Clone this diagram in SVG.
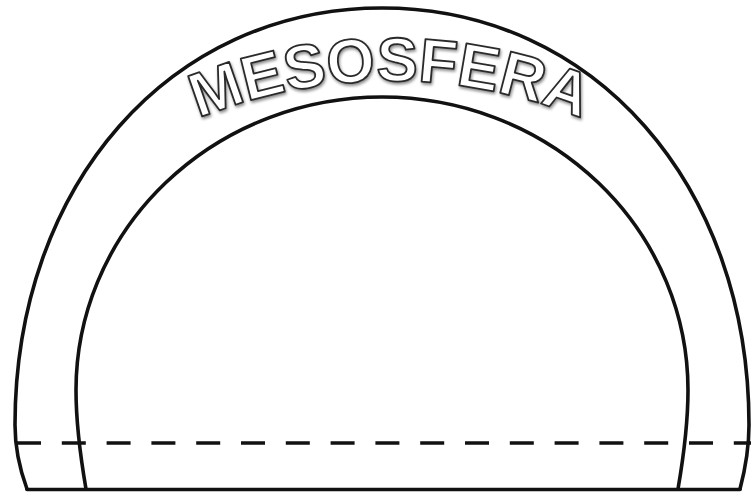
<svg xmlns="http://www.w3.org/2000/svg" width="751" height="495" viewBox="0 0 751 495">
  <style>
    .line { fill: none; stroke: #111; stroke-width: 3.6; stroke-linecap: round; stroke-linejoin: round; }
    .dash { fill: none; stroke: #111; stroke-width: 3.4; stroke-dasharray: 24 20.8; }
    .title { font-family: "Liberation Sans", Arial, sans-serif; font-size: 62px; font-weight: bold; fill: #fff; stroke: #2a2a2a; stroke-width: 1.8; stroke-linejoin: round; }
  </style>
  <defs>
    <path id="textArc" d="M 185,124 A 510 510 0 0 1 595,124"/>
    <filter id="soft" x="-10%" y="-20%" width="120%" height="140%">
      <feGaussianBlur in="SourceAlpha" stdDeviation="1.6" result="b"/>
      <feOffset in="b" dx="1" dy="1.5" result="o"/>
      <feComponentTransfer in="o" result="s"><feFuncA type="linear" slope="0.45"/></feComponentTransfer>
      <feMerge><feMergeNode in="s"/><feMergeNode in="SourceGraphic"/></feMerge>
    </filter>
  </defs>
  <rect width="751" height="495" fill="#fff"/>
  <g id="outer-arc">
    <path class="line" d="M 27,489 C 20,470 15,448 15,425 C 15,185 170,8 382,8 C 594,8 749,185 749,425 C 749,448 745,470 740,489"/>
  </g>
  <g id="inner-arc">
    <path class="line" d="M 86,489 C 81,460 76,420 76,390 A 306 293 0 0 1 688,390 C 688,420 683,460 678,489"/>
  </g>
  <g id="base">
    <path class="line" d="M 27,489.5 L 740,489.5" stroke-width="4.2"/>
  </g>
  <g id="dashed-line">
    <path class="dash" d="M 17,443 L 751,443"/>
  </g>
  <g id="label" filter="url(#soft)">
    <text class="title"><textPath href="#textArc" startOffset="50%" text-anchor="middle">MESOSFERA</textPath></text>
  </g>
</svg>
